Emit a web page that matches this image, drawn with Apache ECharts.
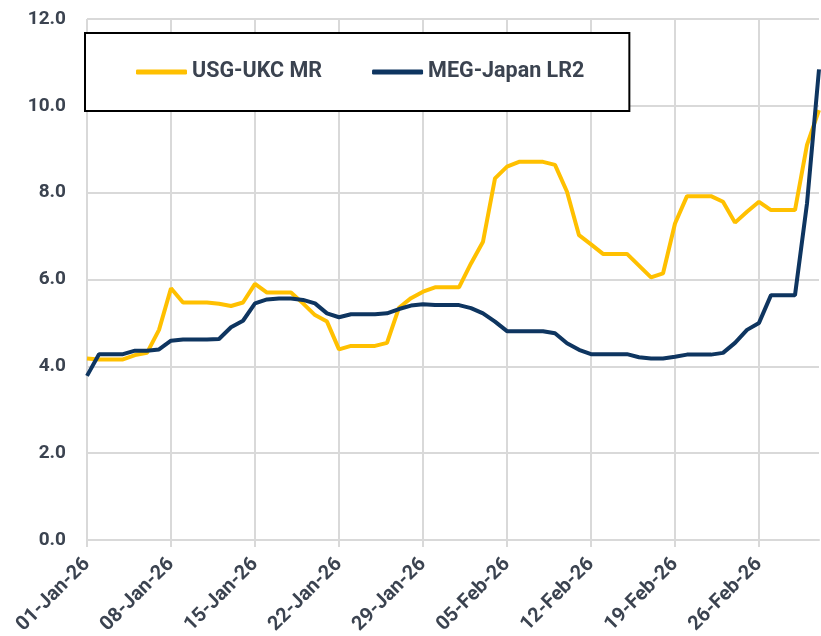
<!DOCTYPE html>
<html>
<head>
<meta charset="utf-8">
<script src="https://cdn.jsdelivr.net/npm/echarts@6/dist/echarts.min.js"></script>
<style>
  html, body { margin: 0; padding: 0; background: #fff; }
  #main { width: 821px; height: 636px; }
</style>
</head>
<body>
<div id="main"></div>
<script>
// daily dates 01-Jan-26 .. 03-Mar-26
var monthNames = ['Jan', 'Feb', 'Mar'];
var monthDays = [31, 28, 3];
var dates = [];
for (var m = 0; m < monthDays.length; m++) {
    for (var d = 1; d <= monthDays[m]; d++) {
        dates.push((d < 10 ? '0' + d : '' + d) + '-' + monthNames[m] + '-26');
    }
}

var seriesNames = ['USG-UKC MR', 'MEG-Japan LR2'];

var usgUkcMr = [
    4.18, 4.16, 4.16, 4.16, 4.26, 4.31, 4.84, 5.80, 5.47, 5.47,
    5.47, 5.44, 5.39, 5.47, 5.90, 5.70, 5.70, 5.70, 5.45, 5.18,
    5.03, 4.39, 4.47, 4.47, 4.47, 4.54, 5.35, 5.57, 5.72, 5.82,
    5.82, 5.82, 6.37, 6.87, 8.33, 8.60, 8.71, 8.71, 8.71, 8.64,
    8.02, 7.02, 6.81, 6.59, 6.59, 6.59, 6.32, 6.05, 6.14, 7.29,
    7.92, 7.92, 7.92, 7.79, 7.31, 7.56, 7.79, 7.60, 7.60, 7.60,
    9.10, 9.90
];

var megJapanLr2 = [
    3.78, 4.28, 4.28, 4.28, 4.36, 4.36, 4.39, 4.59, 4.62, 4.62,
    4.62, 4.63, 4.90, 5.05, 5.45, 5.54, 5.56, 5.56, 5.53, 5.45,
    5.22, 5.13, 5.20, 5.20, 5.20, 5.22, 5.32, 5.40, 5.43, 5.41,
    5.41, 5.41, 5.34, 5.22, 5.03, 4.81, 4.81, 4.81, 4.81, 4.76,
    4.53, 4.38, 4.28, 4.28, 4.28, 4.28, 4.21, 4.18, 4.18, 4.22,
    4.27, 4.27, 4.27, 4.31, 4.54, 4.84, 5.00, 5.64, 5.64, 5.64,
    7.75, 10.84
];

var textColor = '#3b4350';
var gridColor = '#d9d9d9';

var myChart = echarts.init(document.getElementById('main'));

var option = {
    animation: false,
    color: ['#ffc000', '#0e3560'],
    legend: {
        left: 85,
        top: 33,
        padding: [28, 45, 28, 51],
        backgroundColor: '#fff',
        borderColor: '#000',
        borderWidth: 2,
        borderRadius: 0,
        itemWidth: 51,
        itemHeight: 5,
        itemGap: 50,
        icon: 'roundRect',
        textStyle: {
            color: textColor,
            fontFamily: 'Roboto',
            fontWeight: 'bold',
            fontSize: 21.5
        },
        data: seriesNames
    },
    grid: {
        left: 87,
        right: 2,
        top: 19,
        bottom: 96,
        containLabel: false,
        outerBoundsMode: 'none'
    },
    xAxis: {
        type: 'category',
        data: dates,
        boundaryGap: false,
        axisLine: { lineStyle: { color: gridColor, width: 2 } },
        axisTick: { show: true, interval: 6, length: 7, lineStyle: { color: gridColor, width: 2 } },
        splitLine: { show: true, interval: 6, lineStyle: { color: gridColor, width: 2 } },
        axisLabel: {
            interval: 6,
            rotate: 45,
            margin: 21,
            color: textColor,
            fontFamily: 'Roboto',
            fontWeight: 'bold',
            fontSize: 20
        }
    },
    yAxis: {
        type: 'value',
        min: 0,
        max: 12,
        interval: 2,
        axisLine: { show: false },
        axisTick: { show: false },
        splitLine: { lineStyle: { color: gridColor, width: 2 } },
        axisLabel: {
            margin: 21,
            color: textColor,
            fontFamily: 'Roboto',
            fontWeight: 'bold',
            fontSize: 19,
            formatter: function (v) { return v.toFixed(1); }
        }
    },
    series: [
        {
            name: seriesNames[0],
            type: 'line',
            data: usgUkcMr,
            symbol: 'none',
            lineStyle: { width: 4 }
        },
        {
            name: seriesNames[1],
            type: 'line',
            data: megJapanLr2,
            symbol: 'none',
            lineStyle: { width: 4 }
        }
    ]
};

myChart.setOption(option);
</script>
</body>
</html>
